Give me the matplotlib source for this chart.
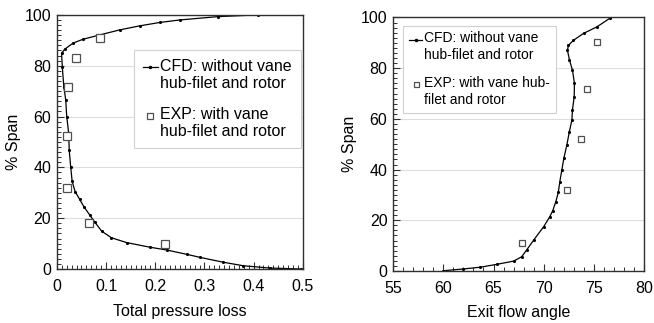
import numpy as np
import matplotlib
matplotlib.use("Agg")
import matplotlib.pyplot as plt
from matplotlib.lines import Line2D
from matplotlib.legend_handler import HandlerLine2D
from matplotlib.ticker import MultipleLocator

plt.rcParams['font.family'] = ['Liberation Sans', 'DejaVu Sans']
plt.rcParams['font.size'] = 11.5

# Left panel: total pressure loss vs span
cfd_loss_span = [0, 0.4, 1.3, 2.7, 4.6, 5.8, 7.5, 8.6, 10.4, 12.3, 14.9, 18.5, 21.2,
                 24.5, 27.5, 30.5, 34.5, 40.3, 46.9, 53.4, 60, 66.5, 71.8, 79.6, 84.9,
                 86.5, 88.9, 90.4, 92.1, 94.1, 95.7, 97.0, 98.0, 99.3, 100]
cfd_loss = [0.497, 0.433, 0.379, 0.338, 0.291, 0.264, 0.223, 0.189, 0.142, 0.111, 0.091,
            0.077, 0.067, 0.055, 0.046, 0.037, 0.031, 0.028, 0.025, 0.024, 0.020, 0.018,
            0.014, 0.011, 0.0095, 0.016, 0.033, 0.053, 0.087, 0.128, 0.169, 0.209, 0.25,
            0.327, 0.409]
exp_loss_span = [90.8, 83, 71.8, 52.5, 32, 18.2, 9.7]
exp_loss = [0.088, 0.038, 0.023, 0.021, 0.020, 0.065, 0.2195]

# Right panel: exit flow angle vs span
cfd_angle_span = [0.1, 0.8, 1.5, 2.6, 3.9, 5.6, 8.3, 12.2, 17.5, 21.4, 23.8, 27.3, 31,
                  35.2, 39.8, 44.4, 49.7, 54.9, 59.5, 63.5, 68.7, 74, 79.2, 83.2, 87.1,
                  89, 91, 93.7, 96.3, 99.6]
cfd_angle = [60.0, 62.0, 63.7, 65.3, 67.0, 67.8, 68.3, 69.0, 70.0, 70.6, 70.9, 71.2,
             71.45, 71.6, 71.8, 72.0, 72.3, 72.55, 72.8, 72.86, 73.03, 73.06, 72.86,
             72.56, 72.36, 72.46, 72.96, 73.96, 75.3, 76.55]
exp_angle_span = [90.4, 71.6, 51.9, 31.9, 10.9]
exp_angle = [75.35, 74.35, 73.73, 72.36, 67.85]

loss_ticks = [0, 0.1, 0.2, 0.3, 0.4, 0.5]
loss_labels = ["0", "0.1", "0.2", "0.3", "0.4", "0.5"]
angle_ticks = [55, 60, 65, 70, 75, 80]
span_ticks = [0, 20, 40, 60, 80, 100]

left_labels = ["CFD: without vane\nhub-filet and rotor",
               "EXP: with vane\nhub-filet and rotor"]
right_labels = ["CFD: without vane\nhub-filet and rotor",
                "EXP: with vane hub-\nfilet and rotor"]

fig = plt.figure(figsize=(6.54, 3.23), dpi=100)
ax1 = fig.add_axes([0.087, 0.167, 0.376, 0.787])
ax2 = fig.add_axes([0.601, 0.161, 0.384, 0.785])

sq_color = '#505050'


class FirstLineHandler(HandlerLine2D):
    """Puts the legend handle level with the first line of a two-line label."""

    def __init__(self, lift, **kw):
        super().__init__(**kw)
        self.lift = lift

    def create_artists(self, legend, orig_handle, xdescent, ydescent, width, height,
                       fontsize, trans):
        # HandlerLine2D centres at (height - ydescent) / 2
        return super().create_artists(legend, orig_handle, xdescent,
                                      ydescent - 2 * self.lift, width, height,
                                      fontsize, trans)


def style_axes(ax):
    for s in ax.spines.values():
        s.set_color('#303030')
        s.set_linewidth(1.0)
    ax.tick_params(which='both', direction='in', top=False, right=False, colors='#303030',
                   labelcolor='black')
    ax.tick_params(which='major', length=5, width=0.8)
    ax.tick_params(axis='x', which='major', pad=7)
    ax.tick_params(axis='y', which='major', pad=4)
    ax.tick_params(which='minor', length=3, width=0.7)
    ax.yaxis.grid(True, which='major', color='#dcdcdc', lw=0.8)
    ax.set_axisbelow(True)


def make_legend(ax, labels, anchor, fs, sq, pad, lsp, lspace, lift):
    handles = [Line2D([], [], color='black', lw=0.9, marker='.', markersize=3),
               Line2D([], [], ls='none', marker='s', markersize=sq, mfc='white',
                      mec=sq_color, mew=0.9)]
    hmap = {h: FirstLineHandler(lift) for h in handles}
    leg = ax.legend(handles, labels, loc='upper left', bbox_to_anchor=anchor,
                    borderaxespad=0, fancybox=False, framealpha=1, edgecolor='#d0d0d0',
                    handlelength=0.95, handletextpad=0.15, labelspacing=lsp,
                    borderpad=pad, fontsize=fs, handler_map=hmap)
    for t in leg.get_texts():
        t.set_linespacing(lspace)
    leg.get_frame().set_linewidth(0.8)


# left panel
ax1.plot(cfd_loss, cfd_loss_span, color='black', lw=0.9, marker='.', markersize=2.5)
ax1.plot(exp_loss, exp_loss_span, ls='none', marker='s', markersize=5.3, mfc='white',
         mec=sq_color, mew=0.9)
ax1.set_xlim(0, 0.5)
ax1.set_ylim(0, 100)
ax1.set_xticks(loss_ticks)
ax1.set_xticklabels(loss_labels)
ax1.set_yticks(span_ticks)
ax1.xaxis.set_minor_locator(MultipleLocator(0.01))
ax1.yaxis.set_minor_locator(MultipleLocator(2))
ax1.set_xlabel("Total pressure loss", labelpad=7)
ax1.set_ylabel("% Span", labelpad=3)
style_axes(ax1)
make_legend(ax1, left_labels, (0.313, 0.862), 11.5, 5.0, 0.56, 1.05, 1.15, 5.8)

# right panel
ax2.plot(cfd_angle, cfd_angle_span, color='black', lw=0.9, marker='.', markersize=2.5)
ax2.plot(exp_angle, exp_angle_span, ls='none', marker='s', markersize=4.6, mfc='white',
         mec=sq_color, mew=0.9)
ax2.set_xlim(55, 80)
ax2.set_ylim(0, 100)
ax2.set_xticks(angle_ticks)
ax2.set_yticks(span_ticks)
ax2.xaxis.set_minor_locator(MultipleLocator(1))
ax2.yaxis.set_minor_locator(MultipleLocator(2))
ax2.set_xlabel("Exit flow angle", labelpad=7)
ax2.set_ylabel("% Span", labelpad=3)
style_axes(ax2)
make_legend(ax2, right_labels, (0.041, 0.967), 10, 3.6, 0.4, 0.97, 1.28, 5.65)

fig.savefig("out.png", dpi=100)
